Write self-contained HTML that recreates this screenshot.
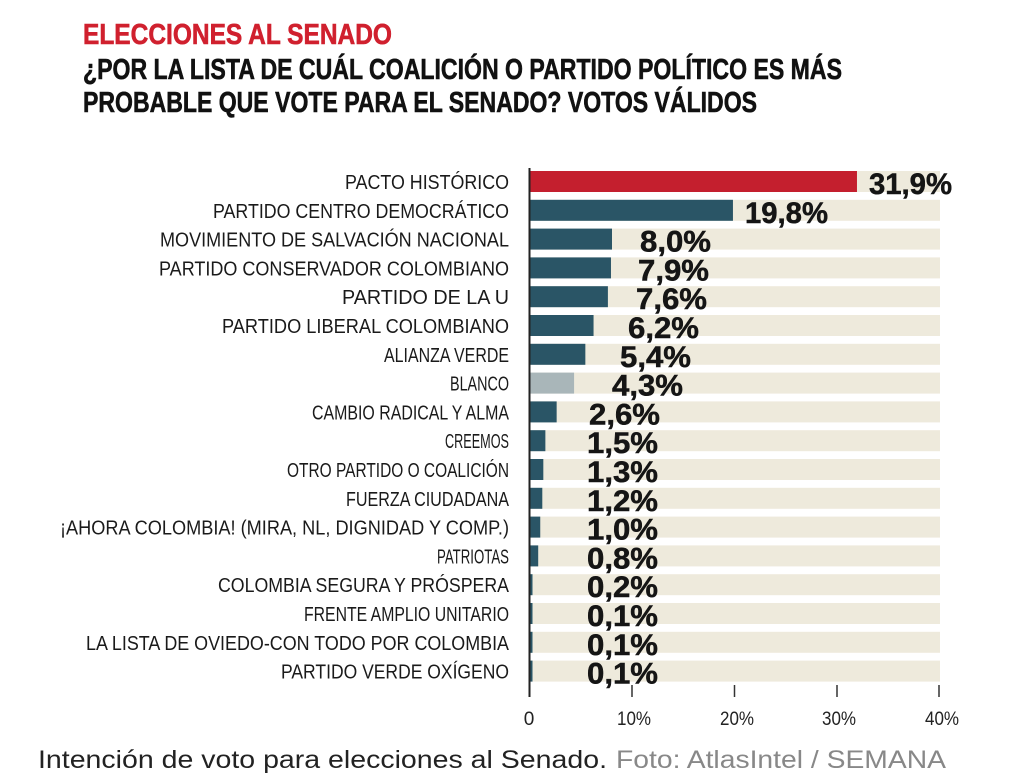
<!DOCTYPE html>
<html><head><meta charset="utf-8"><style>
html,body{margin:0;padding:0;background:#fff;}
svg{display:block;}
text{font-family:"Liberation Sans",sans-serif;}
</style></head><body>
<svg width="1024" height="777" viewBox="0 0 1024 777">
<text x="83" y="44" font-size="29" font-weight="bold" fill="#d0202e" textLength="309" lengthAdjust="spacingAndGlyphs" stroke="#d0202e" stroke-width="0.6">ELECCIONES AL SENADO</text>
<text x="83" y="79" font-size="29" font-weight="bold" fill="#111" textLength="759" lengthAdjust="spacingAndGlyphs" stroke="#111" stroke-width="0.6">¿POR LA LISTA DE CUÁL COALICIÓN O PARTIDO POLÍTICO ES MÁS</text>
<text x="83" y="112" font-size="29" font-weight="bold" fill="#111" textLength="674" lengthAdjust="spacingAndGlyphs" stroke="#111" stroke-width="0.6">PROBABLE QUE VOTE PARA EL SENADO?  VOTOS VÁLIDOS</text>
<g id="rows"></g>
<line x1="529.5" y1="168" x2="529.5" y2="697" stroke="#222" stroke-width="2"/>
<g stroke="#333" stroke-width="1.5">
<line x1="632" y1="685" x2="632" y2="697"/><line x1="734.5" y1="685" x2="734.5" y2="697"/><line x1="837" y1="685" x2="837" y2="697"/><line x1="939" y1="685" x2="939" y2="697"/>
</g>
<g font-size="19" fill="#222" text-anchor="middle">
<text x="529" y="725">0</text><text x="634" y="725" textLength="34" lengthAdjust="spacingAndGlyphs">10%</text><text x="737" y="725" textLength="34" lengthAdjust="spacingAndGlyphs">20%</text><text x="839" y="725" textLength="34" lengthAdjust="spacingAndGlyphs">30%</text><text x="942" y="725" textLength="34" lengthAdjust="spacingAndGlyphs">40%</text>
</g>
<text x="38" y="768" font-size="25" fill="#222" textLength="569" lengthAdjust="spacingAndGlyphs">Intención de voto para elecciones al Senado.</text>
<text x="616" y="768" font-size="25" fill="#888" textLength="330" lengthAdjust="spacingAndGlyphs">Foto: AtlasIntel / SEMANA</text>
</svg>
<script>
var d=[["PACTO HISTÓRICO",345,31.9,"31,9%",869],["PARTIDO CENTRO DEMOCRÁTICO",213,19.8,"19,8%",745],["MOVIMIENTO DE SALVACIÓN NACIONAL",160,8.0,"8,0%",640],["PARTIDO CONSERVADOR COLOMBIANO",159,7.9,"7,9%",638],["PARTIDO DE LA U",342,7.6,"7,6%",636],["PARTIDO LIBERAL COLOMBIANO",222,6.2,"6,2%",628],["ALIANZA VERDE",384,5.4,"5,4%",620],["BLANCO",450,4.3,"4,3%",612],["CAMBIO RADICAL Y ALMA",312,2.6,"2,6%",589],["CREEMOS",445,1.5,"1,5%",587],["OTRO PARTIDO O COALICIÓN",287,1.3,"1,3%",587],["FUERZA CIUDADANA",346,1.2,"1,2%",587],["¡AHORA COLOMBIA! (MIRA, NL, DIGNIDAD Y COMP.)",60,1.0,"1,0%",587],["PATRIOTAS",437,0.8,"0,8%",587],["COLOMBIA SEGURA Y PRÓSPERA",218,0.2,"0,2%",587],["FRENTE AMPLIO UNITARIO",304,0.1,"0,1%",587],["LA LISTA DE OVIEDO-CON TODO POR COLOMBIA",86,0.1,"0,1%",587],["PARTIDO VERDE OXÍGENO",281,0.1,"0,1%",587]];
var s="";
d.forEach(function(r,i){
 var y=171+i*28.8, w=Math.max(r[2]*10.25,2.5);
 var c=i==0?"#c41f2e":(i==7?"#a9b6b9":"#2a5566");
 s+='<rect x="530" y="'+y+'" width="410" height="21" fill="#eeeadc"/>';
 s+='<rect x="530" y="'+y+'" width="'+w+'" height="21" fill="'+c+'"/>';
 s+='<text x="'+r[1]+'" y="'+(y+18)+'" font-size="20" fill="#1a1a1a" textLength="'+(509-r[1])+'" lengthAdjust="spacingAndGlyphs">'+r[0]+'</text>';
 var vw=r[3].length==5?83:71;
 s+='<text x="'+r[4]+'" y="'+(y+23)+'" font-size="30" font-weight="bold" fill="#151515" stroke="#151515" stroke-width="0.5" textLength="'+vw+'" lengthAdjust="spacingAndGlyphs">'+r[3]+'</text>';
});
document.getElementById("rows").innerHTML=s;
</script>
</body></html>
